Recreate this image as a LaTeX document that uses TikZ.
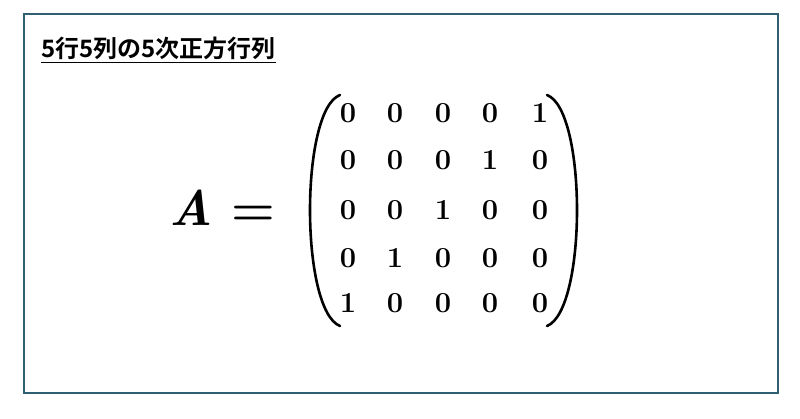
\documentclass[tikz,border=0pt]{standalone}
\usepackage{fontspec}
\usetikzlibrary{calc}
\newfontfamily\cjk{Noto Sans CJK JP}[BoldFont={Noto Sans CJK JP Bold}]
\definecolor{frame}{HTML}{2F5F73}
\begin{document}
\begin{tikzpicture}[x=1pt,y=-1pt,
  ent/.style={font=\fontsize{29}{34}\selectfont\bfseries,anchor=center},
  par/.style={line width=2.6pt,line cap=round}]
\useasboundingbox (0,0) rectangle (800,419);
\fill[white] (0,0) rectangle (800,419);
\draw[frame,line width=1.6pt] (24,14) rectangle (778,393);
\node[anchor=west,inner sep=0pt,font=\cjk\bfseries\fontsize{24}{28}\selectfont] (t) at (41,48) {5行5列の5次正方行列};
\draw[line width=1.5pt] ($(t.south west)+(0,3)$) -- ($(t.south east)+(0,3)$);
\node[font=\fontsize{50}{56}\selectfont\bfseries] (A) at (222,208) {\textit{A} =};
\foreach \r/\y in {1/113,2/160,3/210,4/258,5/303}{
 \foreach \c/\x in {1/348,2/395,3/443,4/490,5/540}{
  \pgfmathtruncatemacro{\v}{(\r+\c==6)?1:0}
  \node[ent] (m\r\c) at (\x,\y) {\v};
 }}
\coordinate (lt) at (340,95); \coordinate (lb) at (340,326);
\coordinate (rt) at (547,95); \coordinate (rb) at (547,326);
\draw[par] (lt) .. controls (300,110) and (300,310) .. (lb);
\draw[par] (rt) .. controls (587,110) and (587,310) .. (rb);
\end{tikzpicture}
\end{document}
